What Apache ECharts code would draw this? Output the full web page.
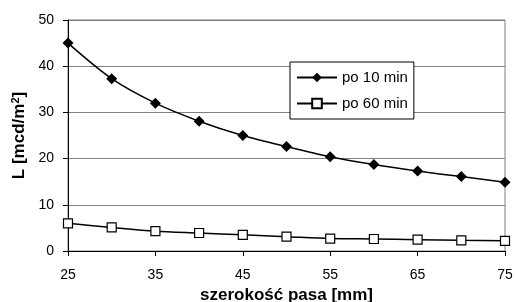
<!DOCTYPE html>
<html>
<head>
<meta charset="utf-8">
<script src="https://cdn.jsdelivr.net/npm/echarts@6/dist/echarts.min.js"></script>
<style>
  html, body { margin: 0; padding: 0; background: #fff; }
  #chart { width: 515px; height: 302px; }
</style>
</head>
<body>
<div id="chart"></div>
<script>
// szerokość pasa [mm]
var widths = [25, 30, 35, 40, 45, 50, 55, 60, 65, 70, 75];
// L po 10 min
var after10 = [45, 37.3, 32.0, 28.1, 25.0, 22.6, 20.4, 18.7, 17.3, 16.1, 14.9];
// L po 60 min
var after60 = [6.0, 5.1, 4.3, 3.9, 3.5, 3.1, 2.7, 2.6, 2.45, 2.3, 2.2];

function pairs(xs, ys) {
    return xs.map(function(x, i) { return [x, ys[i]]; });
}

var chart = echarts.init(document.getElementById('chart'));
var font = 'Liberation Sans, Arial, sans-serif';

chart.setOption({
    animation: false,
    textStyle: { fontFamily: font },
    grid: {
        left: 68, right: 10, top: 20, bottom: 51,
        outerBoundsMode: 'none', containLabel: false,
        show: true, borderColor: '#808080', borderWidth: 1
    },
    legend: {
        orient: 'vertical',
        left: 290, top: 62,
        padding: [8, 6, 8, 6],
        itemGap: 11,
        itemWidth: 40, itemHeight: 12,
        backgroundColor: '#fff',
        borderColor: '#000', borderWidth: 1,
        textStyle: { fontSize: 15, color: '#000', fontFamily: font },
        data: ['po 10 min', 'po 60 min']
    },
    xAxis: {
        type: 'value', min: 25, max: 75, interval: 10,
        name: 'szerokość pasa [mm]', nameLocation: 'middle', nameGap: 36,
        nameTextStyle: { fontSize: 17, fontWeight: 'bold', color: '#000', fontFamily: font },
        axisLine: { lineStyle: { color: '#000', width: 1 } },
        axisTick: { show: true, length: 5, lineStyle: { color: '#000' } },
        axisLabel: { fontSize: 14, color: '#000', margin: 17, fontFamily: font },
        splitLine: { show: false }
    },
    yAxis: {
        type: 'value', min: 0, max: 50, interval: 10,
        name: 'L [mcd/m{sup|2}]', nameLocation: 'middle', nameGap: 40, nameRotate: 90,
        nameTextStyle: {
            fontSize: 17, fontWeight: 'bold', color: '#000', fontFamily: font,
            rich: { sup: { fontSize: 11, fontWeight: 'bold', verticalAlign: 'top', padding: [0, 0, 7, 0] } }
        },
        axisLine: { show: true, lineStyle: { color: '#000', width: 1 } },
        axisTick: { show: true, length: 5, lineStyle: { color: '#000' } },
        axisLabel: { fontSize: 14, color: '#000', margin: 14, fontFamily: font },
        splitLine: { show: true, lineStyle: { color: '#808080', width: 1 } }
    },
    series: [
        {
            name: 'po 10 min', type: 'line', smooth: 0.3,
            data: pairs(widths, after10),
            symbol: 'diamond', symbolSize: 11,
            itemStyle: { color: '#000' },
            lineStyle: { color: '#000', width: 1.5 }
        },
        {
            name: 'po 60 min', type: 'line', smooth: 0.3,
            data: pairs(widths, after60),
            symbol: 'rect', symbolSize: 9,
            itemStyle: { color: '#fff', borderColor: '#000', borderWidth: 1.2 },
            lineStyle: { color: '#000', width: 1.5 }
        }
    ]
});
</script>
</body>
</html>
